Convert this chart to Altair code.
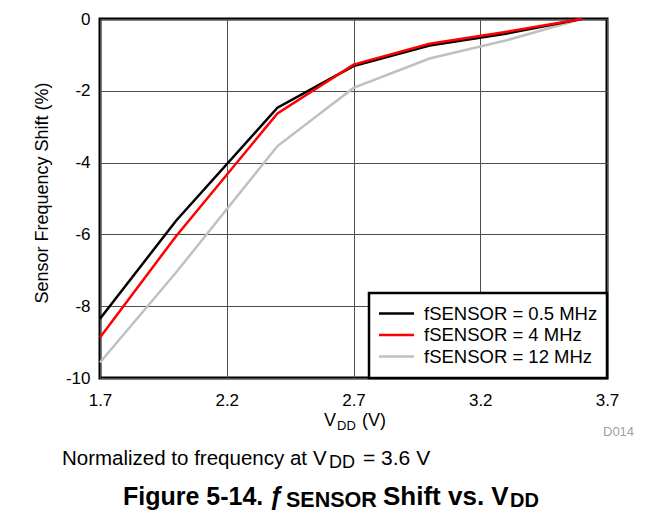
import altair as alt
import pandas as pd

FONT = "Liberation Sans"

# ---- data ----
vdd = [1.7, 2.0, 2.4, 2.7, 3.0, 3.3, 3.6]
shift_05 = [-8.35, -5.62, -2.47, -1.31, -0.74, -0.41, 0.0]
shift_4 = [-8.87, -6.05, -2.63, -1.27, -0.69, -0.36, 0.0]
shift_12 = [-9.57, -7.06, -3.54, -1.92, -1.10, -0.60, 0.0]
series_names = ["fSENSOR = 0.5 MHz", "fSENSOR = 4 MHz", "fSENSOR = 12 MHz"]
series_colors = ["#000000", "#ff0000", "#c0c0c0"]
x_ticks = [1.7, 2.2, 2.7, 3.2, 3.7]
y_ticks = [-10, -8, -6, -4, -2, 0]

# ---- layout (plot-area pixel coordinates) ----
W, H = 507, 359
PAD = {"left": 92, "top": 11, "right": 648 - 92 - W, "bottom": 509 - 11 - H}

anno = pd.DataFrame({"a": [0]})


def label(text, x, y, size, weight="normal", style="normal", color="black",
          align="left", angle=0, baseline="alphabetic"):
    return alt.Chart(anno).mark_text(
        text=text, font=FONT, fontSize=size, fontWeight=weight, fontStyle=style,
        color=color, align=align, baseline=baseline, angle=angle
    ).encode(x=alt.value(x), y=alt.value(y))


def run(parts, y0, weight="normal"):
    """parts: list of (text, x, size, dy, style)"""
    return [label(t, x, y0 + dy, s, weight=weight, style=st) for t, x, s, dy, st in parts]


x_enc = alt.X("V:Q", scale=alt.Scale(domain=[1.7, 3.7], nice=False, zero=False),
              axis=alt.Axis(values=x_ticks, format=".1f", title=None, labelPadding=14,
                            labelFlush=False))
y_enc = alt.Y("shift:Q", scale=alt.Scale(domain=[-10, 0], nice=False),
              axis=alt.Axis(values=y_ticks, labelExpr="'' + datum.value", title=None,
                            labelPadding=10, labelFlush=False))
color_enc = alt.Color("series:N", scale=alt.Scale(domain=series_names, range=series_colors),
                      legend=None)


def series_layer(values, name):
    d = pd.DataFrame({"V": vdd, "shift": values, "series": name})
    return alt.Chart(d).mark_line(strokeWidth=2.5).encode(x=x_enc, y=y_enc, color=color_enc)


layers = [
    series_layer(shift_12, series_names[2]),
    series_layer(shift_05, series_names[0]),
    series_layer(shift_4, series_names[1]),
]

# ---- legend box (drawn by hand, like the reference) ----
LX0, LX1, LY0, LY1 = 269, 507, 274, 359
layers.append(alt.Chart(anno).mark_rect(fill="white", stroke="black", strokeWidth=2.5).encode(
    x=alt.value(LX0), x2=alt.value(LX1), y=alt.value(LY0), y2=alt.value(LY1)))
row_y = [294.5, 316, 337.5]
for name, col, ry in zip(series_names, series_colors, row_y):
    layers.append(alt.Chart(anno).mark_rule(color=col, strokeWidth=2.5).encode(
        x=alt.value(279), x2=alt.value(314), y=alt.value(ry)))
    layers.append(label(name, 324, ry, 18.5, baseline="middle"))

# ---- texts ----
layers.append(label("Sensor Frequency Shift (%)", -57, 174, 18, angle=270,
                    align="center", baseline="middle"))
# x axis title  V_DD (V)
layers += run([("V", 224, 18, 0, "normal"), ("DD", 237, 13, 4, "normal"),
               ("(V)", 262, 18, 0, "normal")], 407)
layers.append(label("D014", 503, 417, 13, color="#a0a0a0"))
# note
layers += run([("Normalized to frequency at", -38, 20.5, 0, "normal"),
               ("V", 213, 20.5, 0, "normal"), ("DD", 229, 18, 3, "normal"),
               ("= 3.6 V", 263, 21, 0, "normal")], 446)
# caption
layers += run([("Figure 5-14.", 23, 25, 0, "normal"), ("\u0192", 169, 25, 0, "italic"),
               ("SENSOR", 186, 21.5, 2, "normal"), ("Shift vs. V", 283, 26, 0, "normal"),
               ("DD", 410, 20, 2, "normal")], 486,
              weight="bold")

chart = alt.layer(*layers).properties(
    width=W, height=H, padding=PAD, autosize=alt.AutoSizeParams(type="none")
).configure_view(
    stroke="black", strokeWidth=3
).configure_axis(
    domain=False, ticks=False, grid=True, gridColor="#4d4d4d", gridWidth=1,
    labelFont=FONT, labelFontSize=17, labelColor="black"
)

chart.save("out.html", embed_options={"renderer": "svg", "actions": False})
